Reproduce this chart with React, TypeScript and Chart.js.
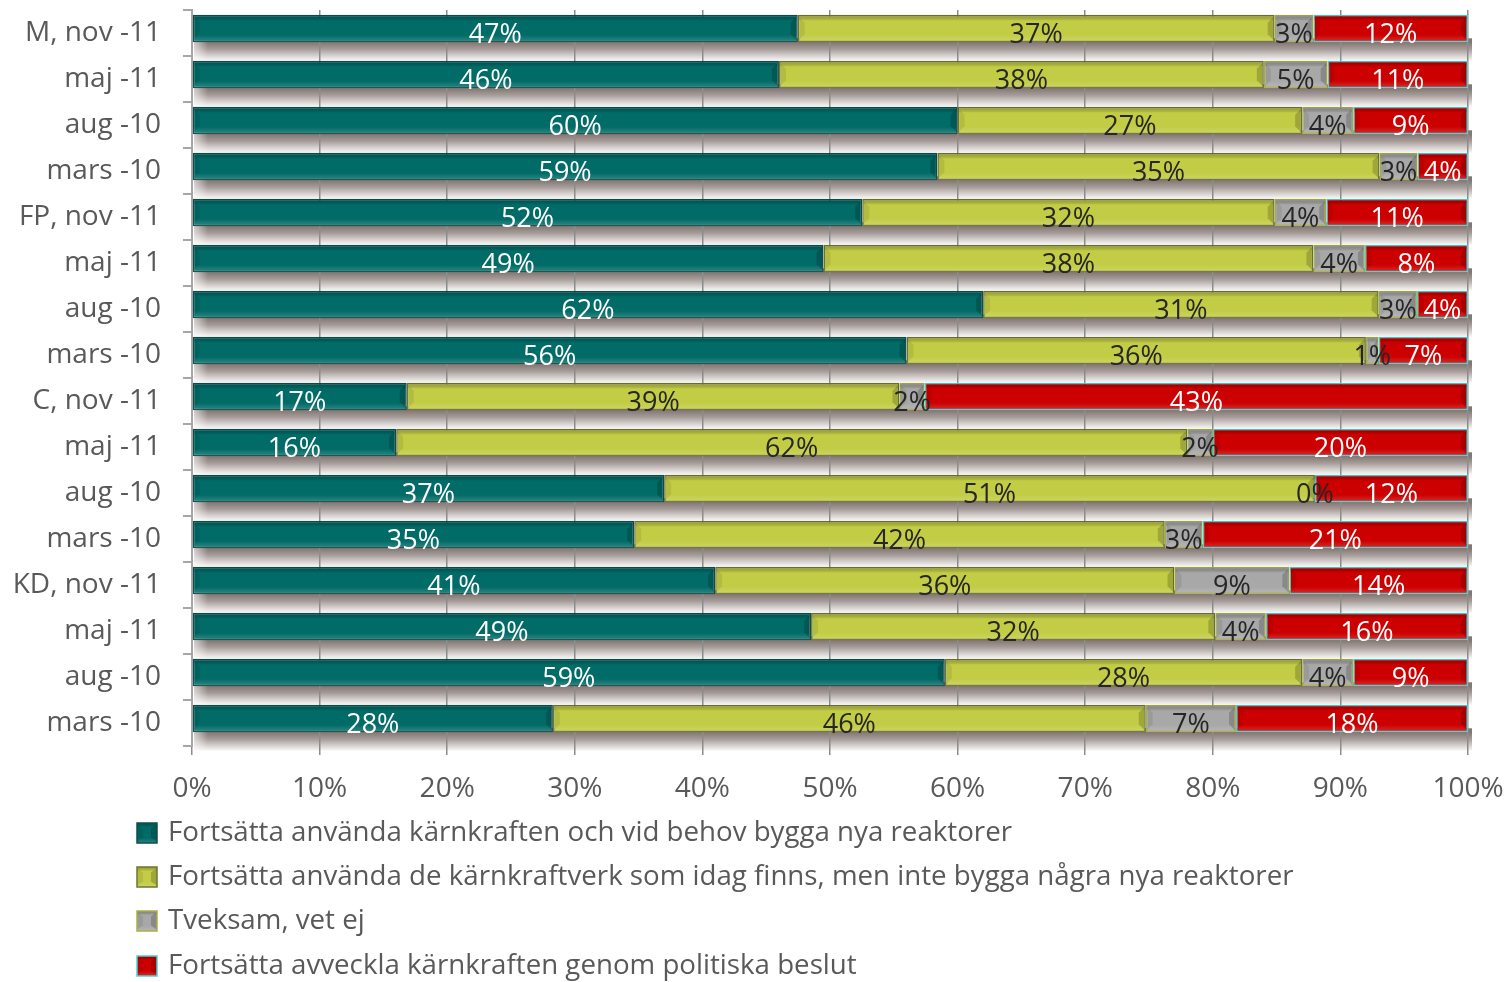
import { useEffect, useRef } from 'react';
import { Chart, registerables } from 'chart.js';

Chart.register(...registerables);

const categories = [
  'M, nov -11', 'maj -11', 'aug -10', 'mars -10',
  'FP, nov -11', 'maj -11', 'aug -10', 'mars -10',
  'C, nov -11', 'maj -11', 'aug -10', 'mars -10',
  'KD, nov -11', 'maj -11', 'aug -10', 'mars -10',
];

const seriesNames = [
  'Fortsätta använda kärnkraften och vid behov bygga nya reaktorer',
  'Fortsätta använda de kärnkraftverk som idag finns, men inte bygga några nya reaktorer',
  'Tveksam, vet ej',
  'Fortsätta avveckla kärnkraften genom politiska beslut',
];

const buildNew = [47, 46, 60, 59, 52, 49, 62, 56, 17, 16, 37, 35, 41, 49, 59, 28];
const keepExisting = [37, 38, 27, 35, 32, 38, 31, 36, 39, 62, 51, 42, 36, 32, 28, 46];
const unsure = [3, 5, 4, 3, 4, 4, 3, 1, 2, 2, 0, 3, 9, 4, 4, 7];
const phaseOut = [12, 11, 9, 4, 11, 8, 4, 7, 43, 20, 12, 21, 14, 16, 9, 18];

const xTicks = [0, 10, 20, 30, 40, 50, 60, 70, 80, 90, 100];

const fillColors = ['#006b67', '#c3cc45', '#a8a8a8', '#cc0000'];
const borderColors = ['#0d4f4c', '#6e7632', '#a9b140', '#4fcfd2'];
const labelColors = ['#ffffff', '#262626', '#262626', '#ffffff'];

const FONT = '"Open Sans", sans-serif';
const BAR_SHIFT = 4.5;

const rawSeries = [buildNew, keepExisting, unsure, phaseOut];
const totals = categories.map((_, i) => rawSeries.reduce((s, arr) => s + arr[i], 0));

function drawBevel(ctx: CanvasRenderingContext2D, left: number, right: number, top: number, bottom: number) {
  const h = bottom - top;
  const g = ctx.createLinearGradient(0, top, 0, bottom);
  g.addColorStop(0, 'rgba(0,0,0,0.24)');
  g.addColorStop(0.14, 'rgba(0,0,0,0.12)');
  g.addColorStop(0.2, 'rgba(0,0,0,0.0)');
  g.addColorStop(0.75, 'rgba(255,255,255,0.0)');
  g.addColorStop(0.9, 'rgba(255,255,255,0.10)');
  g.addColorStop(1, 'rgba(255,255,255,0.16)');
  ctx.fillStyle = g;
  ctx.fillRect(left, top, right - left, h);
  const w = Math.min(6, (right - left) / 3);
  if (w <= 0.5) return;
  ctx.fillStyle = 'rgba(0,0,0,0.18)';
  ctx.beginPath();
  ctx.moveTo(right - w, top + h * 0.28);
  ctx.lineTo(right, top + 1);
  ctx.lineTo(right, bottom - 1);
  ctx.lineTo(right - w, bottom - h * 0.28);
  ctx.closePath();
  ctx.fill();
  ctx.fillStyle = 'rgba(0,0,0,0.08)';
  ctx.beginPath();
  ctx.moveTo(left + w, top + h * 0.28);
  ctx.lineTo(left, top + 1);
  ctx.lineTo(left, bottom - 1);
  ctx.lineTo(left + w, bottom - h * 0.28);
  ctx.closePath();
  ctx.fill();
}

const effectsPlugin = {
  id: 'effects',
  beforeDraw(chart: any) {
    const { ctx, chartArea } = chart;
    const y = chart.scales.y;
    const band = (chartArea.bottom - chartArea.top) / categories.length;
    ctx.save();
    categories.forEach((_, i) => {
      const bc = y.getPixelForValue(i);
      const barBottom = bc - BAR_SHIFT + band * 0.3;
      const y0 = barBottom - 4;
      const y1 = bc + band / 2 + band * 0.1;
      const g = ctx.createLinearGradient(0, barBottom, 0, y1);
      g.addColorStop(0, '#837773');
      g.addColorStop(0.35, '#a39996');
      g.addColorStop(0.75, '#d9d4d2');
      g.addColorStop(1, '#f7f6f6');
      ctx.fillStyle = g;
      ctx.fillRect(chartArea.left + 2, y0, chartArea.right - chartArea.left + 2, y1 - y0);
      const hg = ctx.createLinearGradient(chartArea.left, 0, chartArea.left + 16, 0);
      hg.addColorStop(0, 'rgba(255,255,255,0.7)');
      hg.addColorStop(1, 'rgba(255,255,255,0)');
      ctx.fillStyle = hg;
      ctx.fillRect(chartArea.left, y0, 16, y1 - y0);
    });
    ctx.restore();
  },
  beforeDatasetsDraw(chart: any) {
    chart.ctx.save();
    chart.ctx.translate(0, -BAR_SHIFT);
  },
  afterDatasetsDraw(chart: any) {
    const { ctx } = chart;
    chart.data.datasets.forEach((_: any, di: number) => {
      const meta = chart.getDatasetMeta(di);
      meta.data.forEach((el: any) => {
        const left = Math.min(el.x, el.base);
        const right = Math.max(el.x, el.base);
        drawBevel(ctx, left + 1, right - 1, el.y - el.height / 2 + 1, el.y + el.height / 2 - 1);
      });
    });
    ctx.restore();
    ctx.save();
    ctx.font = `27px ${FONT}`;
    ctx.textAlign = 'center';
    ctx.textBaseline = 'middle';
    chart.data.datasets.forEach((ds: any, di: number) => {
      const meta = chart.getDatasetMeta(di);
      ctx.fillStyle = labelColors[di];
      meta.data.forEach((el: any, i: number) => {
        const cx = (el.x + el.base) / 2;
        ctx.fillText(`${rawSeries[di][i]}%`, cx, el.y + 2);
      });
    });
    ctx.restore();
  },
  afterDraw(chart: any) {
    const { ctx } = chart;
    ctx.save();
    ctx.font = `27.7px ${FONT}`;
    ctx.textBaseline = 'middle';
    ctx.textAlign = 'left';
    const rows = [833, 877, 921, 966];
    seriesNames.forEach((name, i) => {
      const cy = rows[i];
      const x0 = 137;
      const s = 20;
      ctx.fillStyle = fillColors[i];
      ctx.fillRect(x0, cy - s / 2, s, s);
      drawBevel(ctx, x0, x0 + s, cy - s / 2, cy + s / 2);
      ctx.strokeStyle = borderColors[i];
      ctx.lineWidth = 1.5;
      ctx.strokeRect(x0, cy - s / 2, s, s);
      ctx.fillStyle = '#595959';
      ctx.fillText(name, 168, cy);
    });
    ctx.restore();
  },
};

export default function App() {
  const ref = useRef<HTMLCanvasElement>(null);
  useEffect(() => {
    document.body.style.margin = '0';
    const chart = new Chart(ref.current!, {
      type: 'bar',
      data: {
        labels: categories,
        datasets: rawSeries.map((arr, di) => ({
          label: seriesNames[di],
          data: arr.map((v, i) => (v / totals[i]) * 100),
          backgroundColor: fillColors[di],
          borderColor: borderColors[di],
          borderWidth: 1.5,
          borderSkipped: false,
          barPercentage: 0.6,
          categoryPercentage: 1,
        })),
      },
      options: {
        indexAxis: 'y',
        responsive: false,
        animation: false,
        layout: { padding: { left: 0, right: 40, top: 10, bottom: 0 } },
        plugins: {
          legend: { display: false },
          tooltip: { enabled: false },
        },
        scales: {
          x: {
            stacked: true,
            min: 0,
            max: 100,
            afterBuildTicks: (scale: any) => {
              scale.ticks = xTicks.map((v) => ({ value: v }));
            },
            afterFit: (scale: any) => {
              scale.height = 982 - 746;
              scale.paddingLeft = 0;
              scale.paddingRight = 0;
              scale.paddingTop = 0;
              scale.paddingBottom = 0;
            },
            grid: {
              color: '#8c8c8c',
              lineWidth: 1.5,
              drawTicks: true,
              tickLength: 9,
            },
            border: { display: false },
            ticks: {
              padding: 17,
              color: '#595959',
              font: { family: FONT, size: 28 },
              callback: (v: any) => `${v}%`,
            },
          },
          y: {
            stacked: true,
            afterFit: (scale: any) => {
              scale.width = 192;
              scale.paddingLeft = 0;
              scale.paddingRight = 0;
              scale.paddingTop = 0;
              scale.paddingBottom = 0;
            },
            grid: {
              drawOnChartArea: false,
              drawTicks: true,
              tickLength: 9,
              color: '#a6a6a6',
              lineWidth: 2,
            },
            border: { display: true, color: '#a6a6a6', width: 2 },
            ticks: {
              padding: 22,
              color: '#595959',
              font: { family: FONT, size: 28 },
              autoSkip: false,
            },
          },
        },
      },
      plugins: [effectsPlugin],
    });
    return () => chart.destroy();
  }, []);
  return (
    <div style={{ width: 1508, height: 982 }}>
      <canvas ref={ref} width={1508} height={982} />
    </div>
  );
}
